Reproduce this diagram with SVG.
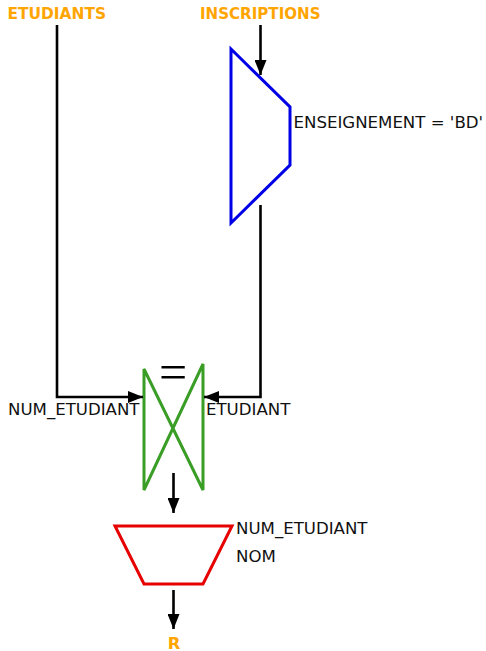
<svg xmlns="http://www.w3.org/2000/svg" width="486" height="651" viewBox="0 0 486 651">
<style>
.title{font-family:"DejaVu Sans",sans-serif;font-weight:bold;font-size:16.4px;fill:#FFA500}
.lbl{font-family:"DejaVu Sans",sans-serif;font-size:16.6px;fill:#111}
.edge{fill:none;stroke:#000;stroke-width:2.6}
</style>
<defs>
<marker id="ah" markerUnits="userSpaceOnUse" markerWidth="16" markerHeight="12" refX="15" refY="6" orient="auto">
<path d="M0,0 L15,6 L0,12 Z" fill="#000"/>
</marker>
</defs>
<rect width="486" height="651" fill="#fff"/>
<g id="etudiants"><text class="title" x="7.5" y="19.3" textLength="98.5" lengthAdjust="spacingAndGlyphs">ETUDIANTS</text></g>
<g id="inscriptions"><text class="title" x="200" y="19.3" textLength="120.5" lengthAdjust="spacingAndGlyphs">INSCRIPTIONS</text></g>
<g id="selection">
<polygon points="231,49 290,107 290,165 231,223" fill="none" stroke="#0000E6" stroke-width="3"/>
<text class="lbl" x="293.5" y="127.5">ENSEIGNEMENT = 'BD'</text>
</g>
<g id="jointure">
<polygon points="144,369 203,490 203,364 144,490" fill="none" stroke="#3A9E26" stroke-width="3"/>
<text x="173.2" y="388.5" text-anchor="middle" font-family="Liberation Serif, serif" font-size="50" fill="#000">=</text>
<text class="lbl" x="8" y="415">NUM_ETUDIANT</text>
<text class="lbl" x="206" y="415">ETUDIANT</text>
</g>
<g id="projection">
<polygon points="115,526 232,526 203,584 144,584" fill="none" stroke="#E60000" stroke-width="3"/>
<text class="lbl" x="236" y="534">NUM_ETUDIANT</text>
<text class="lbl" x="236" y="562">NOM</text>
</g>
<g id="r"><text class="title" x="174" y="648.5" text-anchor="middle" font-size="18.5">R</text></g>
<g id="connectors">
<path class="edge" d="M57,25 V397 H143" marker-end="url(#ah)"/>
<path class="edge" d="M260.5,25 V75" marker-end="url(#ah)"/>
<path class="edge" d="M260.5,205 V397 H204" marker-end="url(#ah)"/>
<path class="edge" d="M173.5,473 V513" marker-end="url(#ah)"/>
<path class="edge" d="M173.5,590 V629" marker-end="url(#ah)"/>
</g>
</svg>
